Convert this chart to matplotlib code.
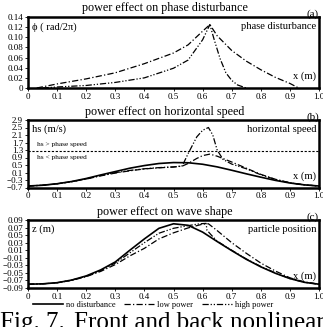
import matplotlib.pyplot as plt

plt.rcParams['font.family'] = ['Liberation Serif', 'DejaVu Serif']
plt.rcParams['axes.unicode_minus'] = True

# panel (a): phase disturbance
pa_low_x = [0.03, 0.1, 0.2, 0.3, 0.4, 0.5, 0.55, 0.6, 0.625, 0.65, 0.7, 0.75, 0.8, 0.85, 0.9, 0.93]
pa_low_y = [0.0, 0.008, 0.018, 0.030, 0.048, 0.069, 0.085, 0.112, 0.125, 0.103, 0.074, 0.053, 0.036, 0.021, 0.009, 0.0]
pa_high_x = [0.05, 0.1, 0.2, 0.3, 0.4, 0.5, 0.55, 0.6, 0.625, 0.64, 0.66, 0.68, 0.7, 0.72, 0.75]
pa_high_y = [0.0, 0.002, 0.005, 0.011, 0.020, 0.039, 0.055, 0.095, 0.125, 0.095, 0.058, 0.030, 0.015, 0.006, 0.0]

# panel (b): horizontal speed
xs = [0.0, 0.05, 0.1, 0.15, 0.2, 0.25, 0.3, 0.35, 0.4, 0.45, 0.5, 0.55, 0.6, 0.65, 0.7,
      0.75, 0.8, 0.85, 0.9, 0.95, 1.0]
hs_none = [-0.62, -0.58, -0.50, -0.38, -0.22, -0.03, 0.15, 0.33, 0.47, 0.58, 0.63, 0.62,
           0.54, 0.40, 0.22, 0.03, -0.15, -0.32, -0.46, -0.56, -0.62]
hs_low_x = [0.0, 0.05, 0.1, 0.15, 0.2, 0.25, 0.3, 0.35, 0.4, 0.45, 0.5, 0.53, 0.55, 0.58,
            0.6, 0.625, 0.65, 0.7, 0.75, 0.8, 0.85, 0.9, 0.95, 1.0]
hs_low = [-0.62, -0.58, -0.50, -0.39, -0.25, -0.08, 0.07, 0.19, 0.29, 0.35, 0.39, 0.44,
          0.58, 0.85, 1.0, 1.08, 0.97, 0.66, 0.33, 0.0, -0.26, -0.45, -0.56, -0.62]
hs_high_x = [0.0, 0.05, 0.1, 0.15, 0.2, 0.25, 0.3, 0.35, 0.4, 0.45, 0.5, 0.53, 0.55, 0.58,
             0.6, 0.62, 0.635, 0.65, 0.67, 0.7, 0.75, 0.8, 0.85, 0.9, 0.95, 1.0]
hs_high = [-0.62, -0.58, -0.50, -0.39, -0.24, -0.06, 0.09, 0.21, 0.30, 0.36, 0.40, 0.45,
           1.1, 2.0, 2.35, 2.5, 2.1, 1.3, 0.8, 0.55, 0.30, -0.02, -0.27, -0.45, -0.56, -0.62]
hs_phase = 1.25

# panel (c): wave shape
z_none = [-0.080, -0.079, -0.076, -0.069, -0.058, -0.042, -0.021, 0.010, 0.040, 0.068, 0.080,
          0.076, 0.058, 0.033, 0.009, -0.014, -0.034, -0.051, -0.065, -0.075, -0.080]
z_low_x = [0.0, 0.05, 0.1, 0.15, 0.2, 0.25, 0.3, 0.35, 0.4, 0.45, 0.5, 0.55, 0.6, 0.62,
           0.65, 0.7, 0.75, 0.8, 0.85, 0.9, 0.95, 1.0]
z_low = [-0.080, -0.079, -0.076, -0.070, -0.060, -0.046, -0.028, -0.005, 0.015, 0.040, 0.056,
         0.069, 0.079, 0.080, 0.062, 0.030, 0.002, -0.024, -0.045, -0.063, -0.074, -0.080]
z_high_x = [0.0, 0.05, 0.1, 0.15, 0.2, 0.25, 0.3, 0.35, 0.4, 0.45, 0.5, 0.55, 0.59, 0.612,
            0.615, 0.63, 0.65, 0.7, 0.75, 0.8, 0.85, 0.9, 0.95, 1.0]
z_high = [-0.080, -0.079, -0.076, -0.069, -0.059, -0.044, -0.024, 0.003, 0.030, 0.055, 0.068,
          0.075, 0.080, 0.081, 0.063, 0.050, 0.034, 0.010, -0.013, -0.033, -0.050, -0.065,
          -0.075, -0.080]

xticks = [0, 0.1, 0.2, 0.3, 0.4, 0.5, 0.6, 0.7, 0.8, 0.9, 1.0]
xticklabels = ['0', '0.1', '0.2', '0.3', '0.4', '0.5', '0.6', '0.7', '0.8', '0.9', '1.0']
a_yticks = [0, 0.02, 0.04, 0.06, 0.08, 0.10, 0.12, 0.14]
a_ylabels = ['0', '0.02', '0.04', '0.06', '0.08', '0.10', '0.12', '0.14']
b_yticks = [-0.7, -0.3, 0.1, 0.5, 0.9, 1.3, 1.7, 2.1, 2.5, 2.9]
b_ylabels = ['\u22120.7', '\u22120.3', '0.1', '0.5', '0.9', '1.3', '1.7', '2.1', '2.5', '2.9']
c_yticks = [-0.09, -0.07, -0.05, -0.03, -0.01, 0.01, 0.03, 0.05, 0.07, 0.09]
c_ylabels = ['\u22120.09', '\u22120.07', '\u22120.05', '\u22120.03', '\u22120.01',
             '0.01', '0.03', '0.05', '0.07', '0.09']

LOW = (0, (5, 1.8, 1, 1.8))
HIGH = (0, (5, 1.5, 1, 1.5, 1, 1.5))

W, H = 323, 327
fig = plt.figure(figsize=(W / 100, H / 100), dpi=100)


def make_axes(top, bottom):
    ax = fig.add_axes([28 / W, (H - bottom) / H, 291 / W, (bottom - top) / H])
    for s in ax.spines.values():
        s.set_linewidth(1.8)
    ax.set_xlim(0, 1)
    ax.set_xticks(xticks)
    ax.set_xticklabels(xticklabels)
    ax.tick_params(labelsize=6.5, length=2, width=0.6, pad=1.5)
    return ax


def panel_text(ax, title, tag, ylab, name, top):
    fig.text(165 / W, (H - top + 8.5) / H, title, ha='center', va='center', fontsize=8.7)
    fig.text(319 / W, (H - top + 2.5) / H, tag, ha='right', va='center', fontsize=8)
    ax.text(0.015, 0.93, ylab, transform=ax.transAxes, ha='left', va='top', fontsize=7.6)
    ax.text(0.99, 0.93, name, transform=ax.transAxes, ha='right', va='top', fontsize=7.6)
    ax.text(0.99, 0.1, 'x (m)', transform=ax.transAxes, ha='right', va='bottom', fontsize=7.6)


# (a)
ax = make_axes(17, 88)
ax.plot(pa_low_x, pa_low_y, color='k', lw=0.9, ls=LOW)
ax.plot(pa_high_x, pa_high_y, color='k', lw=0.9, ls=HIGH)
ax.set_ylim(0, 0.14)
ax.set_yticks(a_yticks)
ax.set_yticklabels(a_ylabels)
panel_text(ax, 'power effect on phase disturbance', '(a)', '\u03d5 ( rad/2\u03c0)',
           'phase disturbance', 17)

# (b)
ax = make_axes(120, 187.5)
ax.plot(xs, hs_none, color='k', lw=1.2)
ax.plot(hs_low_x, hs_low, color='k', lw=0.9, ls=LOW)
ax.plot(hs_high_x, hs_high, color='k', lw=0.9, ls=HIGH)
ax.axhline(hs_phase, color='k', lw=0.8, ls=(0, (2, 1.5)))
ax.set_ylim(-0.7, 2.9)
ax.set_yticks(b_yticks)
ax.set_yticklabels(b_ylabels)
ax.text(0.03, 0.63, 'hs > phase speed', transform=ax.transAxes, fontsize=5.3, va='center')
ax.text(0.03, 0.45, 'hs < phase speed', transform=ax.transAxes, fontsize=5.3, va='center')
panel_text(ax, 'power effect on horizontal speed', '(b)', 'hs (m/s)', 'horizontal speed', 120)

# (c)
ax = make_axes(220, 288)
ax.plot(xs, z_none, color='k', lw=1.2, label='no disturbance')
ax.plot(z_low_x, z_low, color='k', lw=0.9, ls=LOW, label='low power')
ax.plot(z_high_x, z_high, color='k', lw=0.9, ls=HIGH, label='high power')
ax.set_ylim(-0.09, 0.09)
ax.set_yticks(c_yticks)
ax.set_yticklabels(c_ylabels)
panel_text(ax, 'power effect on wave shape', '(c)', 'z (m)', 'particle position', 220)

fig.legend(loc='center', bbox_to_anchor=(153 / W, (H - 305) / H), ncol=3, frameon=False,
           fontsize=6, handlelength=3.6, columnspacing=1.1, handletextpad=0.3,
           borderpad=0.0, borderaxespad=0.0)

# caption running off the bottom of the crop
fig.text(0.0, -2 / H, 'Fig. 7.', ha='left', va='baseline', fontsize=18)
fig.text(74 / W, -2 / H, 'Front and back nonlinear', ha='left', va='baseline', fontsize=18)

fig.savefig('out.png', dpi=100)
